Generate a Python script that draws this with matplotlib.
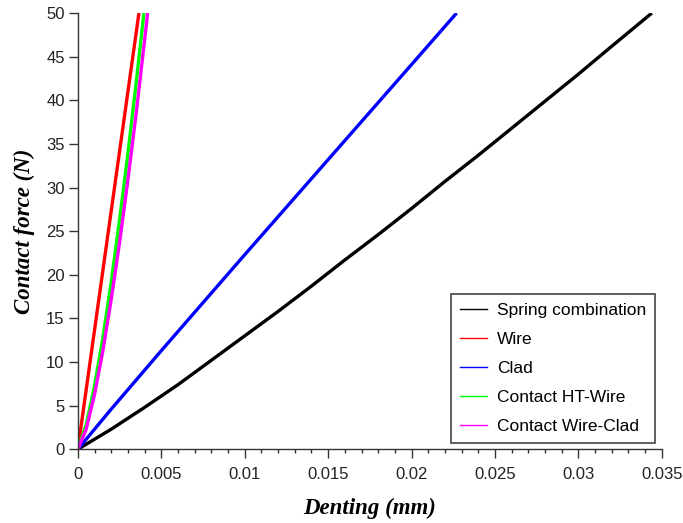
import matplotlib.pyplot as plt
from matplotlib.lines import Line2D
from matplotlib.ticker import MultipleLocator

# denting (mm) and contact force (N)
spring_x = [0, 0.002, 0.004, 0.006, 0.008, 0.010, 0.012, 0.014, 0.016, 0.018,
            0.020, 0.022, 0.024, 0.026, 0.028, 0.030, 0.032, 0.0344]
spring_f = [0, 2.3, 4.8, 7.4, 10.2, 13.0, 15.8, 18.7, 21.7, 24.6,
            27.6, 30.7, 33.7, 36.8, 39.9, 43.0, 46.2, 50.0]

wire_x = [0, 0.0018, 0.00366]
wire_f = [0, 24.6, 50.0]

clad_x = [0, 0.002, 0.005, 0.010, 0.015, 0.020, 0.0227]
clad_f = [0, 4.6, 11.3, 22.3, 33.2, 44.1, 50.0]

ht_wire_x = [0, 0.0005, 0.001, 0.0015, 0.002, 0.0025, 0.003, 0.0035, 0.00396]
ht_wire_f = [0, 2.8, 7.3, 12.8, 19.2, 26.3, 33.9, 42.1, 50.0]

wire_clad_x = [0, 0.0005, 0.001, 0.0015, 0.002, 0.0025, 0.003, 0.0035, 0.004, 0.00418]
wire_clad_f = [0, 2.3, 6.3, 11.3, 17.2, 23.7, 30.9, 38.6, 46.9, 50.0]

series = [
    ("Spring combination", spring_x, spring_f, "black"),
    ("Wire", wire_x, wire_f, "#ff0000"),
    ("Clad", clad_x, clad_f, "#0000ff"),
    ("Contact HT-Wire", ht_wire_x, ht_wire_f, "#00ff00"),
    ("Contact Wire-Clad", wire_clad_x, wire_clad_f, "#ff00ff"),
]

fig = plt.figure(figsize=(6.83, 5.23), dpi=100)
ax = fig.add_axes([0.114, 0.141, 0.855, 0.834])

for label, xs, fs, color in series:
    ax.plot(xs, fs, color=color, lw=2.4, solid_capstyle="butt", solid_joinstyle="round")

ax.set_xlim(0, 0.035)
ax.set_ylim(0, 50)
ax.xaxis.set_minor_locator(MultipleLocator(0.001))
ax.yaxis.set_major_locator(MultipleLocator(5))
ax.set_xticks([0, 0.005, 0.01, 0.015, 0.02, 0.025, 0.03, 0.035])
ax.set_xticklabels(["0", "0.005", "0.01", "0.015", "0.02", "0.025", "0.03", "0.035"])

for side in ["top", "right"]:
    ax.spines[side].set_visible(False)
for side in ["left", "bottom"]:
    ax.spines[side].set_color("#333333")
    ax.spines[side].set_linewidth(1.0)

ax.tick_params(axis="both", which="major", direction="out", length=6.5, width=1,
               color="#333333", labelsize=12, labelcolor="#222222")
ax.tick_params(axis="x", which="minor", direction="out", length=3, width=1, color="#333333")
ax.tick_params(axis="x", pad=6)
ax.tick_params(axis="y", pad=3)
for t in ax.get_xticklabels() + ax.get_yticklabels():
    t.set_fontfamily("Liberation Sans")

lab = dict(family="Liberation Serif", fontsize=16.5, fontweight="bold", style="italic")
ax.set_xlabel("Denting (mm)", labelpad=12, **lab)
ax.set_ylabel("Contact force (N)", labelpad=8, **lab)

handles = [Line2D([], [], color=c, lw=1.0) for _, _, _, c in series]
leg = ax.legend(handles, [s[0] for s in series], loc="lower right",
                bbox_to_anchor=(0.988, 0.014), fancybox=False,
                framealpha=1, edgecolor="#444444",
                prop={"family": "Liberation Sans", "size": 12.5},
                handlelength=1.6, handletextpad=0.55, labelspacing=0.8,
                borderpad=0.5, borderaxespad=0)
leg.get_frame().set_linewidth(1.2)

fig.savefig("out.png", dpi=100)
